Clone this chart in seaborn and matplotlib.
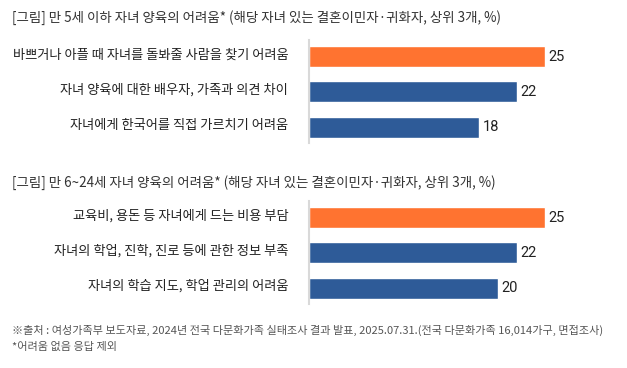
import numpy as np
import pandas as pd
import matplotlib
matplotlib.use('Agg')
import matplotlib.pyplot as plt
import seaborn as sns

sns.set_style('white')
plt.rcParams['font.family'] = ['Noto Sans CJK KR', 'DejaVu Sans']

# data
title_young = '[그림] 만 5세 이하 자녀 양육의 어려움* (해당 자녀 있는 결혼이민자·귀화자, 상위 3개, %)'
labels_young = ['바쁘거나 아플 때 자녀를 돌봐줄 사람을 찾기 어려움',
                '자녀 양육에 대한 배우자, 가족과 의견 차이',
                '자녀에게 한국어를 직접 가르치기 어려움']
values_young = [25, 22, 18]

title_old = '[그림] 만 6~24세 자녀 양육의 어려움* (해당 자녀 있는 결혼이민자·귀화자, 상위 3개, %)'
labels_old = ['교육비, 용돈 등 자녀에게 드는 비용 부담',
              '자녀의 학업, 진학, 진로 등에 관한 정보 부족',
              '자녀의 학습 지도, 학업 관리의 어려움']
values_old = [25, 22, 20]

source_note = '※출처 : 여성가족부 보도자료, 2024년 전국 다문화가족 실태조사 결과 발표, 2025.07.31.(전국 다문화가족 16,014가구, 면접조사)'
star_note = '*어려움 없음 응답 제외'

orange = '#FF7330'
blue = '#2E5B98'

W, H = 627, 368
fig = plt.figure(figsize=(W / 100, H / 100), dpi=100)


def draw_panel(top_px, bottom_px, title, title_y, labels, values):
    ax = fig.add_axes([309 / W, 1 - bottom_px / H, 300 / W, (bottom_px - top_px) / H])
    df = pd.DataFrame({'label': labels, 'value': values})
    palette = [orange] + [blue] * (len(labels) - 1)
    sns.barplot(data=df, x='value', y='label', hue='label', palette=palette,
                legend=False, width=0.6, ax=ax, saturation=1)
    ax.set_xlim(0, 300 / 9.45)
    ax.set_ylim(2.45, -0.47)
    ax.set_xlabel('')
    ax.set_ylabel('')
    ax.set_xticks([])
    ax.set_yticks([])
    for s in ['top', 'right', 'bottom']:
        ax.spines[s].set_visible(False)
    ax.spines['left'].set_color('#d9d9d9')
    ax.spines['left'].set_linewidth(1.5)
    for i, (lab, v) in enumerate(zip(labels, values)):
        ax.text(v + 0.35, i, str(v), va='center', ha='left', fontsize=10.5,
                color='#222222', family=['Roboto', 'DejaVu Sans'])
        ax.text(-2.2, i - 0.05, lab, va='center', ha='right', fontsize=9.5, color='#222222')
    fig.text(12 / W, 1 - title_y / H, title, ha='left', va='center', fontsize=9.7, color='#333333')
    return ax


draw_panel(40, 143, title_young, 18, labels_young, values_young)
draw_panel(201, 304, title_old, 183, labels_old, values_old)

fig.text(12 / W, 1 - 330 / H, source_note, ha='left', va='center', fontsize=8.0, color='#555555')
fig.text(12 / W, 1 - 347 / H, star_note, ha='left', va='center', fontsize=8.0, color='#555555')

fig.savefig('out.png', dpi=100)
